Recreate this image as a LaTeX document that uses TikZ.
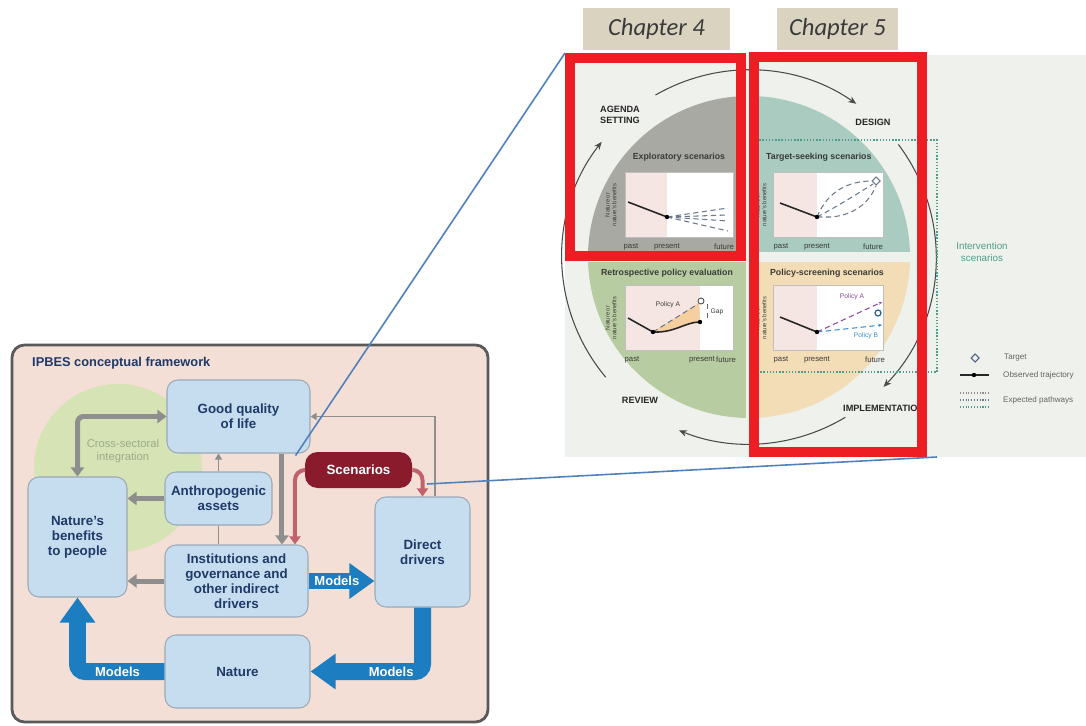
\documentclass[tikz,border=0pt]{standalone}
\usepackage{fontspec}
\setmainfont{Liberation Sans}
\newfontfamily\calib{Carlito}
\usetikzlibrary{arrows.meta,fit,calc}

\definecolor{navy}{HTML}{1F3A68}
\definecolor{panelpink}{HTML}{F3DFD6}
\definecolor{panelline}{HTML}{5A5A5A}
\definecolor{boxfill}{HTML}{C6DDF0}
\definecolor{boxline}{HTML}{9AAAB8}
\definecolor{greenc}{HTML}{D6E3B4}
\definecolor{agrey}{HTML}{8E8E8E}
\definecolor{scen}{HTML}{8A1B2C}
\definecolor{scenarr}{HTML}{C0626B}
\definecolor{mblue}{HTML}{1C7DC0}
\definecolor{crossg}{HTML}{9BAA8C}
\definecolor{linkblue}{HTML}{4F81BD}
\definecolor{chapfill}{HTML}{D9D3BF}
\definecolor{rpanel}{HTML}{EFF1EC}
\definecolor{qgrey}{HTML}{A9A9A3}
\definecolor{qteal}{HTML}{A9CBC0}
\definecolor{qgreen}{HTML}{B8CCA1}
\definecolor{qpeach}{HTML}{F3DDB7}
\definecolor{chpink}{HTML}{F6E6E3}
\definecolor{redbox}{HTML}{EE1D23}
\definecolor{tealc}{HTML}{4E9C8B}
\definecolor{ringc}{HTML}{4A4A4A}
\definecolor{darkt}{HTML}{3A3A3A}
\definecolor{polA}{HTML}{8B4A9C}
\definecolor{polB}{HTML}{3B8FD0}
\definecolor{gapfill}{HTML}{F5CFA0}
\definecolor{expc}{HTML}{6A7A8A}

\tikzset{
  cbox/.style={draw=boxline, fill=boxfill, rounded corners=0.22cm, line width=0.6pt, inner sep=0pt},
  btext/.style={align=center, inner sep=0pt, font=\fontsize{7.6}{8.6}\selectfont\bfseries, text=navy},
  scbox/.style={fill=scen, rounded corners=0.25cm, inner sep=0pt},
  sctext/.style={inner sep=0pt, font=\fontsize{7.6}{8.6}\selectfont\bfseries, text=white},
  garrow/.style={draw=agrey, line width=0.1cm, rounded corners=0.12cm, -{Triangle[width=0.26cm,length=0.18cm]}},
  thinarr/.style={draw=agrey, line width=0.8pt, -{Triangle[width=0.14cm,length=0.12cm]}},
  thinline/.style={draw=agrey, line width=0.8pt},
  scarr/.style={draw=scenarr, line width=0.08cm, rounded corners=0.2cm, -{Triangle[width=0.22cm,length=0.16cm]}},
  models/.style={draw=mblue, line width=0.34cm, rounded corners=0.15cm, -{Triangle[width=0.68cm,length=0.5cm]}},
  mtext/.style={text=white, font=\fontsize{7.4}{8}\selectfont\bfseries, inner sep=0pt},
  link/.style={draw=linkblue, line width=0.9pt},
  chap/.style={fill=chapfill, inner sep=0pt},
  chtext/.style={inner sep=0pt, font=\calib\itshape\fontsize{14}{16}\selectfont, text=darkt},
  ring/.style={draw=ringc, line width=0.6pt, -{Stealth[length=0.16cm,width=0.13cm]}},
  plab/.style={font=\fontsize{5.2}{6.2}\selectfont\bfseries, text=black!85, align=left},
  qt/.style={font=\fontsize{5}{6}\selectfont\bfseries, text=darkt},
  axl/.style={font=\fontsize{3.3}{3.8}\selectfont, text=darkt, align=center},
  xl/.style={font=\fontsize{4.4}{5}\selectfont, text=darkt},
  chframe/.style={draw=black!25, line width=0.4pt},
  obs/.style={draw=black!85, line width=0.9pt},
  expl/.style={draw=expc, line width=0.6pt, densely dashed},
  rbox/.style={draw=redbox, line width=0.2cm, inner sep=0pt},
  tealdot/.style={draw=tealc, line width=0.8pt, densely dotted},
  legt/.style={font=\fontsize{4.6}{5}\selectfont, text=black!60, anchor=west},
  tiny/.style={font=\fontsize{3.8}{4.2}\selectfont}
}

\begin{document}
\begin{tikzpicture}[x=0.02cm, y=-0.02cm]
\useasboundingbox (0,0) rectangle (1086,726);
\fill[white] (0,0) rectangle (1086,726);

% ================= LEFT PANEL =================
\node[fit={(12,345) (488,722)}, inner sep=0pt, draw=panelline, line width=1.6pt, fill=panelpink, rounded corners=0.25cm] (panel) {};
\fill[greenc] (118,468) circle[radius=84];
\node[anchor=west, font=\fontsize{7.3}{8}\selectfont\bfseries, text=navy] (title) at (26,363) {IPBES conceptual framework};

\node[cbox, fit={(167,380) (310,453)}] (gq) {};
\node[btext] at (gq.center) {Good quality\\of life};
\node[cbox, fit={(165,472) (272,525)}] (aa) {};
\node[btext] at (aa.center) {Anthropogenic\\assets};
\node[cbox, fit={(28,477) (127,597)}] (nbp) {};
\node[btext] at (nbp.center) {Nature's\\benefits\\to people};
\node[cbox, fit={(165,545) (308,617)}] (inst) {};
\node[btext] at (inst.center) {Institutions and\\governance and\\other indirect\\drivers};
\node[cbox, fit={(375,497) (470,607)}] (dd) {};
\node[btext] at (dd.center) {Direct\\drivers};
\node[cbox, fit={(165,635) (310,708)}] (nat) {};
\node[btext] at (nat.center) {Nature};
\node[scbox, fit={(305,452) (412,488)}] (sc) {};
\node[sctext] at (sc.center) {Scenarios};

\node[font=\fontsize{6.4}{7.2}\selectfont, text=crossg, align=center] (cs) at (123,451) {Cross-sectoral\\integration};

% grey arrows
\draw[garrow, {Triangle[width=0.26cm,length=0.18cm]}-{Triangle[width=0.26cm,length=0.18cm]}] (gq.west) -| (nbp.north);
\draw[garrow] (aa.west) -- (aa.west -| nbp.east);
\draw[garrow] (inst.west) -- (inst.west -| nbp.east);
\draw[thinarr] (aa.north) -- (aa.north |- gq.south);
\draw[thinline] (aa.south) -- (aa.south |- inst.north);
\draw[garrow] ([xshift=0.87cm]gq.south) -- ([xshift=0.87cm]gq.south |- inst.north);
\draw[thinarr] ([xshift=0.25cm]dd.north) |- (gq.east);

% scenario arrows
\draw[scarr] (sc.west) -| ([xshift=1.17cm]inst.north);
\draw[scarr] (sc.east) -| (dd.north);

% models arrows
\draw[models] (inst.east) -- (inst.east -| dd.west) node[pos=0.43, mtext] {Models};
\draw[models] (dd.south) |- (nat.east) node[pos=0.64, mtext] {Models};
\draw[models] (nat.west) -| (nbp.south) node[pos=0.27, mtext] {Models};

% ================= RIGHT PANEL =================
\fill[rpanel] (565,55) rectangle (1086,457);
\node[chap, fit={(583,8) (730,50)}] (ch4) {};
\node[chtext] at (ch4.center) {Chapter 4};
\node[chap, fit={(777,8) (898,50)}] (ch5) {};
\node[chtext] at (ch5.center) {Chapter 5};

\coordinate (cen) at (749,257);
\fill[qgrey]  (cen) -- +(-161,0) arc[start angle=180,end angle=270,radius=161] -- cycle;
\fill[qteal]  (cen) -- +(0,-161) arc[start angle=270,end angle=360,radius=161] -- cycle;
\fill[qpeach] (cen) -- +(161,0) arc[start angle=0,end angle=90,radius=161] -- cycle;
\fill[qgreen] (cen) -- +(0,161) arc[start angle=90,end angle=180,radius=161] -- cycle;
\draw[rpanel, line width=0.2cm] (586,257) -- (912,257);
\draw[rpanel, line width=0.14cm] (749,94) -- (749,420);

% cycle ring
\draw[ring] (cen) ++(-120:187) arc[start angle=-120,end angle=-55,radius=187];
\draw[ring] (cen) ++(-37:187) arc[start angle=-37,end angle=44,radius=187];
\draw[ring] (cen) ++(59:187) arc[start angle=59,end angle=112,radius=187];
\draw[ring] (cen) ++(140:187) arc[start angle=140,end angle=218,radius=187];

\node[plab] (agenda) at (620,115) {AGENDA\\SETTING};
\node[plab] (design) at (873,122) {DESIGN};
\node[plab] (review) at (640,400) {REVIEW};
\node[plab, anchor=west] (impl) at (837,408) {IMPLEMENTATIO};

% intervention bracket
\draw[tealdot] (753,140) -- (937,140) -- (937,372) -- (753,372);
\node[font=\fontsize{5.6}{6.6}\selectfont, text=tealc, align=center] (interv) at (982,252) {Intervention\\scenarios};

% quadrant titles
\node[qt] (t1) at (679,157) {Exploratory scenarios};
\node[qt, anchor=west] (t2) at (760,157) {Target-seeking scenarios};
\node[qt] (t3) at (667,273) {Retrospective policy evaluation};
\node[qt] (t4) at (827,273) {Policy-screening scenarios};

% chart 1
\fill[white] (625,172) rectangle (733,237);
\fill[chpink] (625,172) rectangle (667,237);
\draw[chframe] (625,172) rectangle (733,237);
\foreach \yy in {208,215,221,231} \draw[expl] (667,217) -- (728,\yy);
\draw[obs] (628,202) -- (667,217);
\fill[black] (667,217) circle[radius=2.2];
\node[axl, rotate=90] at (611,205) {Nature or\\nature's benefits};
\node[xl] at (631,247) {past};
\node[xl] at (667,247) {present};
\node[xl] at (724,247) {future};

% chart 2
\fill[white] (773,172) rectangle (883,237);
\fill[chpink] (773,172) rectangle (817,237);
\draw[chframe] (773,172) rectangle (883,237);
\draw[expl] (817,217) .. controls (828,190) and (850,181) .. (872,181);
\draw[expl] (817,217) .. controls (840,205) and (860,192) .. (873,184);
\draw[expl] (817,217) -- (832,217) .. controls (858,214) and (870,200) .. (876,186);
\draw[obs] (780,203) -- (817,217);
\fill[black] (817,217) circle[radius=2.2];
\draw[draw=expc, line width=0.6pt] (876,177) -- (880,181) -- (876,185) -- (872,181) -- cycle;
\node[axl, rotate=90] at (761,205) {Nature or\\nature's benefits};
\node[xl] at (781,247) {past};
\node[xl] at (817,247) {present};
\node[xl] at (873,247) {future};

% chart 3
\fill[white] (625,285) rectangle (733,350);
\fill[chpink] (625,285) rectangle (700,350);
\draw[chframe] (625,285) rectangle (733,350);
\fill[gapfill] (653,332) -- (699,303) -- (700,322) .. controls (685,322) and (675,333) .. (653,332) -- cycle;
\draw[expl] (653,332) -- (698,304);
\draw[draw=black!70, line width=0.5pt, fill=white] (701,301) circle[radius=3];
\draw[obs] (628,318) -- (653,332) .. controls (675,333) and (685,322) .. (700,322);
\fill[black] (653,332) circle[radius=2.2];
\fill[black] (700,322) circle[radius=2.2];
\draw[draw=black!60, line width=0.4pt, densely dashed] (707,304) -- (707,320);
\node[tiny, text=darkt] at (668,305) {Policy A};
\node[tiny, text=darkt] at (717,312) {Gap};
\node[axl, rotate=90] at (611,318) {Nature or\\nature's benefits};
\node[xl] at (632,360) {past};
\node[xl] at (702,360) {present};
\node[xl] at (726,360) {future};

% chart 4
\fill[white] (773,285) rectangle (883,350);
\fill[chpink] (773,285) rectangle (817,350);
\draw[chframe] (773,285) rectangle (883,350);
\draw[draw=polA, line width=0.6pt, densely dashed, -{Stealth[length=0.07cm,width=0.06cm]}] (817,332) -- (882,302);
\draw[draw=polB, line width=0.6pt, densely dashed, -{Stealth[length=0.07cm,width=0.06cm]}] (817,332) -- (882,325);
\draw[draw=polB!70!black, line width=0.7pt] (878,313) circle[radius=3];
\draw[obs] (780,317) -- (817,332);
\fill[black] (817,332) circle[radius=2.2];
\node[tiny, text=polA] at (852,297) {Policy A};
\node[tiny, text=polB] at (866,336) {Policy B};
\node[axl, rotate=90] at (761,318) {Nature or\\nature's benefits};
\node[xl] at (781,360) {past};
\node[xl] at (817,360) {present};
\node[xl] at (875,360) {future};

% legend
\draw[draw=navy!80, line width=0.6pt] (975,354) -- (979,358) -- (975,362) -- (971,358) -- cycle;
\node[legt] (lt) at (998,358) {Target};
\draw[obs] (960,375) -- (989,375);
\fill[black] (974,375) circle[radius=2.2];
\node[legt] (lo) at (997,375) {Observed trajectory};
\draw[draw=black!45, line width=0.6pt, densely dotted] (960,393) -- (989,393);
\draw[draw=expc, line width=0.6pt, densely dotted] (960,400) -- (989,400);
\draw[draw=tealc, line width=0.6pt, densely dotted] (960,407) -- (989,407);
\node[legt] (le) at (997,400) {Expected pathways};

% red boxes
\node[rbox, fit={(570,58) (741,256)}] (rb1) {};
\node[rbox, fit={(754,57) (922,452)}] (rb2) {};

% links
\draw[link] ([xshift=-0.3cm,yshift=-0.04cm]gq.south east) -- (rb1.north west);
\coordinate (s2) at (427,484);
\draw[link] (s2) -- ([xshift=0.2cm]rb2.south east);
\end{tikzpicture}
\end{document}
